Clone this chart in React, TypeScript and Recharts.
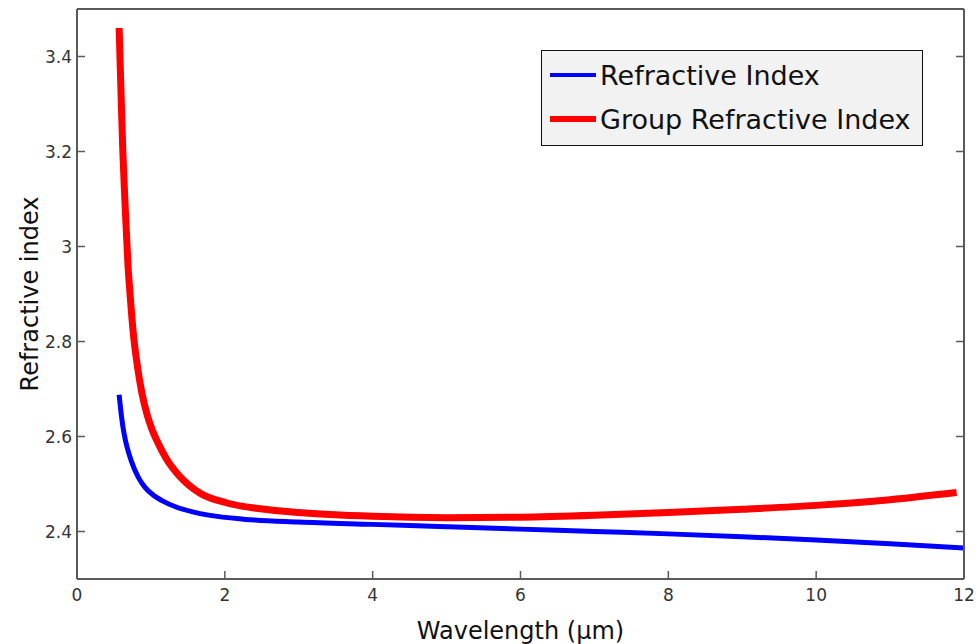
import { LineChart, Line, XAxis, YAxis, Legend } from "recharts"

// wavelength in µm
const wavelength = [0.57, 0.6, 0.62, 0.65, 0.68, 0.74, 0.83, 0.92, 1.03, 1.15, 1.35, 1.55, 1.8, 2.25, 3, 4, 5, 6, 7, 8, 9, 10, 11, 12]
const refractiveIndex = [2.688, 2.645, 2.622, 2.596, 2.576, 2.546, 2.514, 2.493, 2.477, 2.465, 2.451, 2.442, 2.434, 2.426, 2.42, 2.415, 2.41, 2.405, 2.4, 2.395, 2.389, 2.382, 2.374, 2.365]

const groupWavelength = [0.57, 0.6, 0.62, 0.65, 0.69, 0.72, 0.76, 0.82, 0.88, 0.95, 1.01, 1.1, 1.21, 1.39, 1.66, 2.03, 2.48, 3, 4, 5, 6, 7, 8, 9, 10, 11, 11.9]
const groupIndex = [3.46, 3.3, 3.2, 3.09, 2.96, 2.895, 2.82, 2.745, 2.69, 2.645, 2.617, 2.585, 2.553, 2.516, 2.481, 2.46, 2.448, 2.44, 2.432, 2.429, 2.43, 2.434, 2.44, 2.447, 2.455, 2.467, 2.482]

const xTicks = [0, 2, 4, 6, 8, 10, 12]
const yTicks = [2.4, 2.6, 2.8, 3.0, 3.2, 3.4]
const legendOrder = ["Refractive Index", "Group Refractive Index"]

const nData = wavelength.map((w, i) => ({ w, n: refractiveIndex[i] }))
const gData = groupWavelength.map((w, i) => ({ w, g: groupIndex[i] }))

const AXIS = "#5a5a5a"
const FONT = "'DejaVu Sans', Verdana, sans-serif"
const TICK_LEN = 8
const TICK_GAP = 8

function BottomTick({ x, y, payload }: any) {
  return (
    <g>
      <line x1={x} x2={x} y1={y - TICK_GAP} y2={y - TICK_GAP - TICK_LEN} stroke={AXIS} strokeWidth={1.5} />
      <text x={x} y={y} dy="0.8em" textAnchor="middle" fill="#333" fontSize={17} fontFamily={FONT}>
        {payload.value}
      </text>
    </g>
  )
}

function LeftTick({ x, y, payload }: any) {
  return (
    <g>
      <line x1={x + 5} x2={x + 5 + TICK_LEN} y1={y} y2={y} stroke={AXIS} strokeWidth={1.5} />
      <text x={x} y={y} dy="0.36em" textAnchor="end" fill="#333" fontSize={17} fontFamily={FONT}>
        {payload.value}
      </text>
    </g>
  )
}

function TopTick({ x, y }: any) {
  return <line x1={x} x2={x} y1={y} y2={y + TICK_LEN} stroke={AXIS} strokeWidth={1.5} />
}

function RightTick({ x, y }: any) {
  return <line x1={x} x2={x - TICK_LEN} y1={y} y2={y} stroke={AXIS} strokeWidth={1.5} />
}

function LegendBox({ payload }: any) {
  const items = [...(payload || [])].sort((a: any, b: any) => legendOrder.indexOf(a.value) - legendOrder.indexOf(b.value))
  return (
    <div
      style={{
        boxSizing: "border-box",
        width: 382,
        height: 96,
        background: "#f2f2f2",
        border: "1.5px solid #111",
        padding: "2px 0 0 8px",
        fontFamily: FONT,
        fontSize: 27,
        color: "#111",
      }}
    >
      {items.map((entry: any, i: number) => (
        <div key={entry.value} style={{ display: "flex", alignItems: "center", height: 44 }}>
          <span style={{ display: "inline-block", width: 46, height: i === 0 ? 4 : 6, background: entry.color }} />
          <span style={{ marginLeft: 4 }}>{entry.value}</span>
        </div>
      ))}
    </div>
  )
}

export default function App() {
  return (
    <div style={{ position: "absolute", left: 0, top: 0, width: 978, height: 644, background: "#fff" }}>
      <LineChart width={978} height={644} margin={{ top: 8, right: 13, bottom: 0, left: 17 }}>
        <XAxis
          dataKey="w"
          type="number"
          domain={[0, 12]}
          ticks={xTicks}
          allowDataOverflow
          height={65}
          tickSize={0}
          tickMargin={TICK_GAP}
          tick={<BottomTick />}
          axisLine={{ stroke: AXIS, strokeWidth: 2 }}
          label={{ value: "Wavelength (\u03bcm)", position: "insideBottom", offset: 5, fill: "#111", fontSize: 24, fontFamily: FONT }}
        />
        <XAxis
          xAxisId="top"
          orientation="top"
          type="number"
          domain={[0, 12]}
          ticks={xTicks}
          allowDataOverflow
          height={1}
          tickSize={0}
          tickMargin={0}
          tick={<TopTick />}
          axisLine={{ stroke: AXIS, strokeWidth: 2 }}
        />
        <YAxis
          type="number"
          domain={[2.3, 3.5]}
          ticks={yTicks}
          allowDataOverflow
          width={60}
          tickSize={0}
          tickMargin={5}
          tick={<LeftTick />}
          axisLine={{ stroke: AXIS, strokeWidth: 2 }}
          label={{ value: "Refractive index", angle: -90, position: "center", dx: -18, fill: "#111", fontSize: 24, fontFamily: FONT }}
        />
        <YAxis
          yAxisId="right"
          orientation="right"
          type="number"
          domain={[2.3, 3.5]}
          ticks={yTicks}
          allowDataOverflow
          width={1}
          tickSize={0}
          tickMargin={0}
          tick={<RightTick />}
          axisLine={{ stroke: AXIS, strokeWidth: 2 }}
        />
        <Legend
          layout="vertical"
          align="center"
          verticalAlign="middle"
          content={<LegendBox />}
          wrapperStyle={{ top: 50, left: 541, width: 382, height: 96 }}
        />
        <Line
          data={nData}
          dataKey="n"
          name="Refractive Index"
          type="monotone"
          stroke="#0000ff"
          strokeWidth={5}
          dot={false}
          isAnimationActive={false}
        />
        <Line
          data={gData}
          dataKey="g"
          name="Group Refractive Index"
          type="monotone"
          stroke="#ff0000"
          strokeWidth={7}
          dot={false}
          isAnimationActive={false}
        />
      </LineChart>
    </div>
  )
}
